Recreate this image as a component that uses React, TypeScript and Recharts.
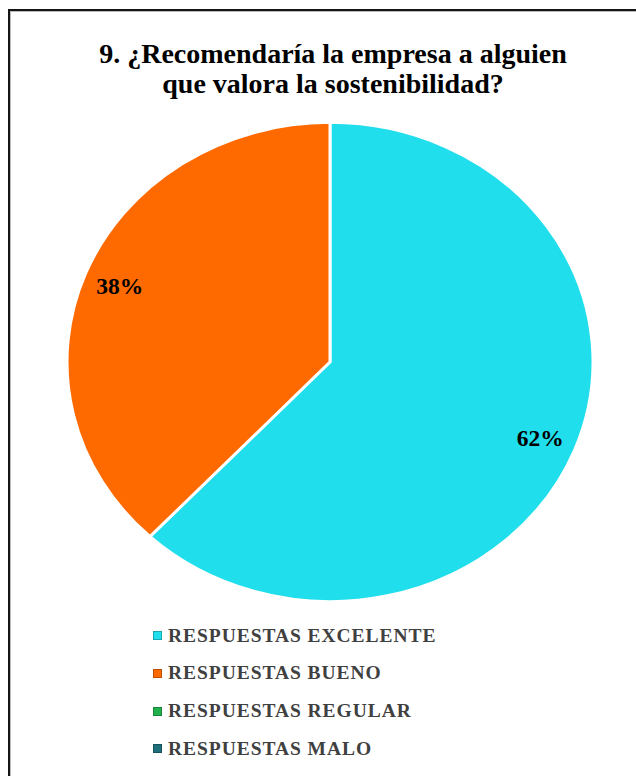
import React from "react";
import { PieChart, Pie, Cell } from "recharts";

const TITLE_LINES = ["9. ¿Recomendaría la empresa a alguien", "que valora la sostenibilidad?"];
const CATEGORIES = [
  "RESPUESTAS EXCELENTE",
  "RESPUESTAS BUENO",
  "RESPUESTAS REGULAR",
  "RESPUESTAS MALO",
];
const VALUES = [62, 38, 0, 0];
const COLORS = ["#20DEEB", "#FF6A00", "#22B14C", "#1E6F7C"];

const SCALE_Y = 0.9106;
const SVG_H = 560;
const CY = 280;
const TOP = 361.5 - SCALE_Y * CY;
const RADIAN = Math.PI / 180;

const pieData = CATEGORIES.map((name, i) => ({ name, value: VALUES[i], color: COLORS[i] })).filter(
  (d) => d.value > 0
);

const renderLabel = (props: any) => {
  const { cx, cy, midAngle, percent } = props;
  const r = 226;
  const x = cx + r * Math.cos(-midAngle * RADIAN);
  const y = cy + r * Math.sin(-midAngle * RADIAN);
  return (
    <text
      x={0}
      y={0}
      transform={`translate(${x},${y}) scale(1,${1 / SCALE_Y})`}
      textAnchor="middle"
      dominantBaseline="central"
      fontFamily="'Liberation Serif', 'Times New Roman', serif"
      fontWeight="bold"
      fontSize={23.5}
      fill="#000"
    >
      {`${Math.round(percent * 100)}%`}
    </text>
  );
};

export default function App() {
  return (
    <div
      style={{
        position: "absolute",
        left: 0,
        top: 0,
        width: 636,
        height: 776,
        overflow: "hidden",
        background: "#fff",
        fontFamily: "'Liberation Serif', 'Times New Roman', serif",
      }}
    >
      <div
        style={{
          position: "absolute",
          left: 8,
          top: 9,
          width: 700,
          height: 800,
          borderLeft: "2px solid #151515",
          borderTop: "2px solid #151515",
          boxShadow: "inset 1px 1px 0 #bbb",
        }}
      />
      <div
        style={{
          position: "absolute",
          left: 10,
          top: 39,
          width: 646,
          textAlign: "center",
          fontFamily: "'Liberation Serif', 'Times New Roman', serif",
          fontWeight: "bold",
          fontSize: 28,
          lineHeight: "30px",
          color: "#000",
        }}
      >
        {TITLE_LINES.map((t, i) => (
          <div key={i}>{t}</div>
        ))}
      </div>
      <div
        style={{
          position: "absolute",
          left: 0,
          top: TOP,
          width: 636,
          height: SVG_H,
          transform: `scale(1, ${SCALE_Y})`,
          transformOrigin: "0 0",
        }}
      >
        <PieChart width={636} height={SVG_H} margin={{ top: 0, right: 0, bottom: 0, left: 0 }}>
          <Pie
            data={pieData}
            dataKey="value"
            nameKey="name"
            cx={330}
            cy={CY}
            outerRadius={263}
            startAngle={90}
            endAngle={-270}
            stroke="#fff"
            strokeWidth={3}
            label={renderLabel}
            labelLine={false}
            isAnimationActive={false}
          >
            {pieData.map((d, i) => (
              <Cell key={i} fill={d.color} />
            ))}
          </Pie>
        </PieChart>
      </div>
      {CATEGORIES.map((c, i) => (
        <div
          key={c}
          style={{
            position: "absolute",
            left: 153,
            top: 635.5 + i * 37.8 - 15,
            height: 30,
            display: "flex",
            alignItems: "center",
          }}
        >
          <div
            style={{
              width: 7,
              height: 7,
              background: COLORS[i],
              border: "0.5px solid rgba(0,0,0,0.25)",
              marginRight: 6,
            }}
          />
          <span
            style={{
              fontWeight: "bold",
              fontSize: 19.5,
              letterSpacing: 0.95,
              color: "#404040",
              lineHeight: "30px",
            }}
          >
            {c}
          </span>
        </div>
      ))}
    </div>
  );
}
